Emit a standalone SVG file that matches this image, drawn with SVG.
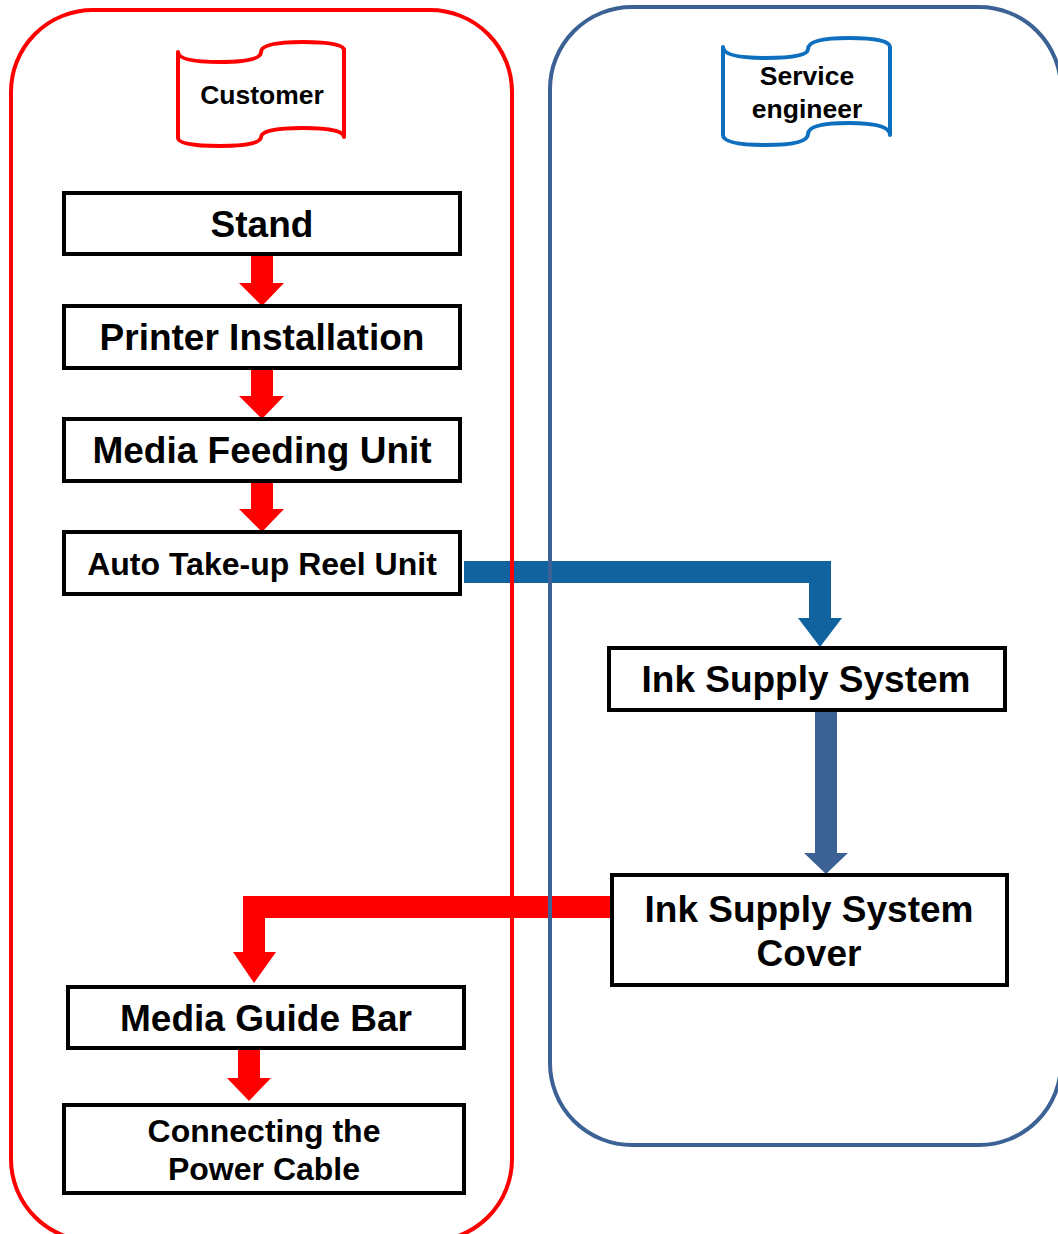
<svg xmlns="http://www.w3.org/2000/svg" width="1058" height="1234" viewBox="0 0 1058 1234">
<style>
.box{fill:#fff;stroke:#000;stroke-width:4}
.t{font-family:"Liberation Sans",Arial,sans-serif;font-weight:bold;fill:#000;text-anchor:middle}
.big{font-size:37px}
.mid{font-size:32px}
.sm{font-size:26.5px}
.red{fill:#FF0000}
</style>
<rect width="1058" height="1234" fill="#fff"/>
<g id="connectors">
  <polygon class="red" points="251,254 273,254 273,283 284,283 262,306 239,283 251,283"/>
  <polygon class="red" points="251,368 273,368 273,396 284,396 262,419 239,396 251,396"/>
  <polygon class="red" points="251,481 273,481 273,509 284,509 262,532 239,509 251,509"/>
  <polygon class="red" points="238,1048 260,1048 260,1078 271,1078 249,1101 227,1078 238,1078"/>
  <polygon fill="#10639F" points="464,561 831,561 831,618 842,618 820,647 798,618 809,618 809,583 464,583"/>
  <polygon fill="#3B6195" points="815,710 837,710 837,853 848,853 826,874 804,853 815,853"/>
  <polygon class="red" points="611,896 611,918 265,918 265,952 276,952 254,983 233,952 243,952 243,896"/>
</g>
<g id="customer-lane">
  <rect x="11" y="10" width="501" height="1231" rx="82" fill="none" stroke="#FF0000" stroke-width="4"/>
</g>
<g id="engineer-lane">
  <rect x="550" y="7" width="511" height="1138" rx="82" fill="none" stroke="#3B6195" stroke-width="4"/>
</g>
<g id="customer-label">
  <path d="M178,52 Q178,62 220,62 Q261,62 261,52 Q261,42 303,42 Q344,42 344,50 L344,137 Q344,128 303,128 Q261,128 261,137 Q261,146 220,146 Q178,146 178,138 Z" fill="#fff" stroke="#FF0000" stroke-width="4" stroke-linejoin="round"/>
  <text class="t sm" x="262" y="104">Customer</text>
</g>
<g id="engineer-label">
  <path d="M723,47 Q723,58 766,58 Q808,58 808,49 Q808,38 849,38 Q890,38 890,47 L890,135 Q890,123 849,123 Q808,123 808,134 Q808,145 766,145 Q723,145 723,135 Z" fill="#fff" stroke="#0F6FBF" stroke-width="4" stroke-linejoin="round"/>
  <text class="t sm" x="807" y="85">Service</text>
  <text class="t sm" x="807" y="118">engineer</text>
</g>
<g id="stand">
  <rect class="box" x="64" y="193" width="396" height="61"/>
  <text class="t big" x="262" y="237">Stand</text>
</g>
<g id="printer-installation">
  <rect class="box" x="64" y="306" width="396" height="62"/>
  <text class="t big" x="262" y="350">Printer Installation</text>
</g>
<g id="media-feeding-unit">
  <rect class="box" x="64" y="419" width="396" height="62"/>
  <text class="t big" x="262" y="463">Media Feeding Unit</text>
</g>
<g id="auto-take-up">
  <rect class="box" x="64" y="532" width="396" height="62"/>
  <text class="t mid" x="262" y="575">Auto Take-up Reel Unit</text>
</g>
<g id="ink-supply-system">
  <rect class="box" x="609" y="648" width="396" height="62"/>
  <text class="t big" x="806" y="692">Ink Supply System</text>
</g>
<g id="ink-supply-system-cover">
  <rect class="box" x="612" y="875" width="395" height="110"/>
  <text class="t big" x="809" y="922">Ink Supply System</text>
  <text class="t big" x="809" y="966">Cover</text>
</g>
<g id="media-guide-bar">
  <rect class="box" x="68" y="987" width="396" height="61"/>
  <text class="t big" x="266" y="1031">Media Guide Bar</text>
</g>
<g id="power-cable">
  <rect class="box" x="64" y="1105" width="400" height="88"/>
  <text class="t mid" x="264" y="1142">Connecting the</text>
  <text class="t mid" x="264" y="1180">Power Cable</text>
</g>
</svg>
